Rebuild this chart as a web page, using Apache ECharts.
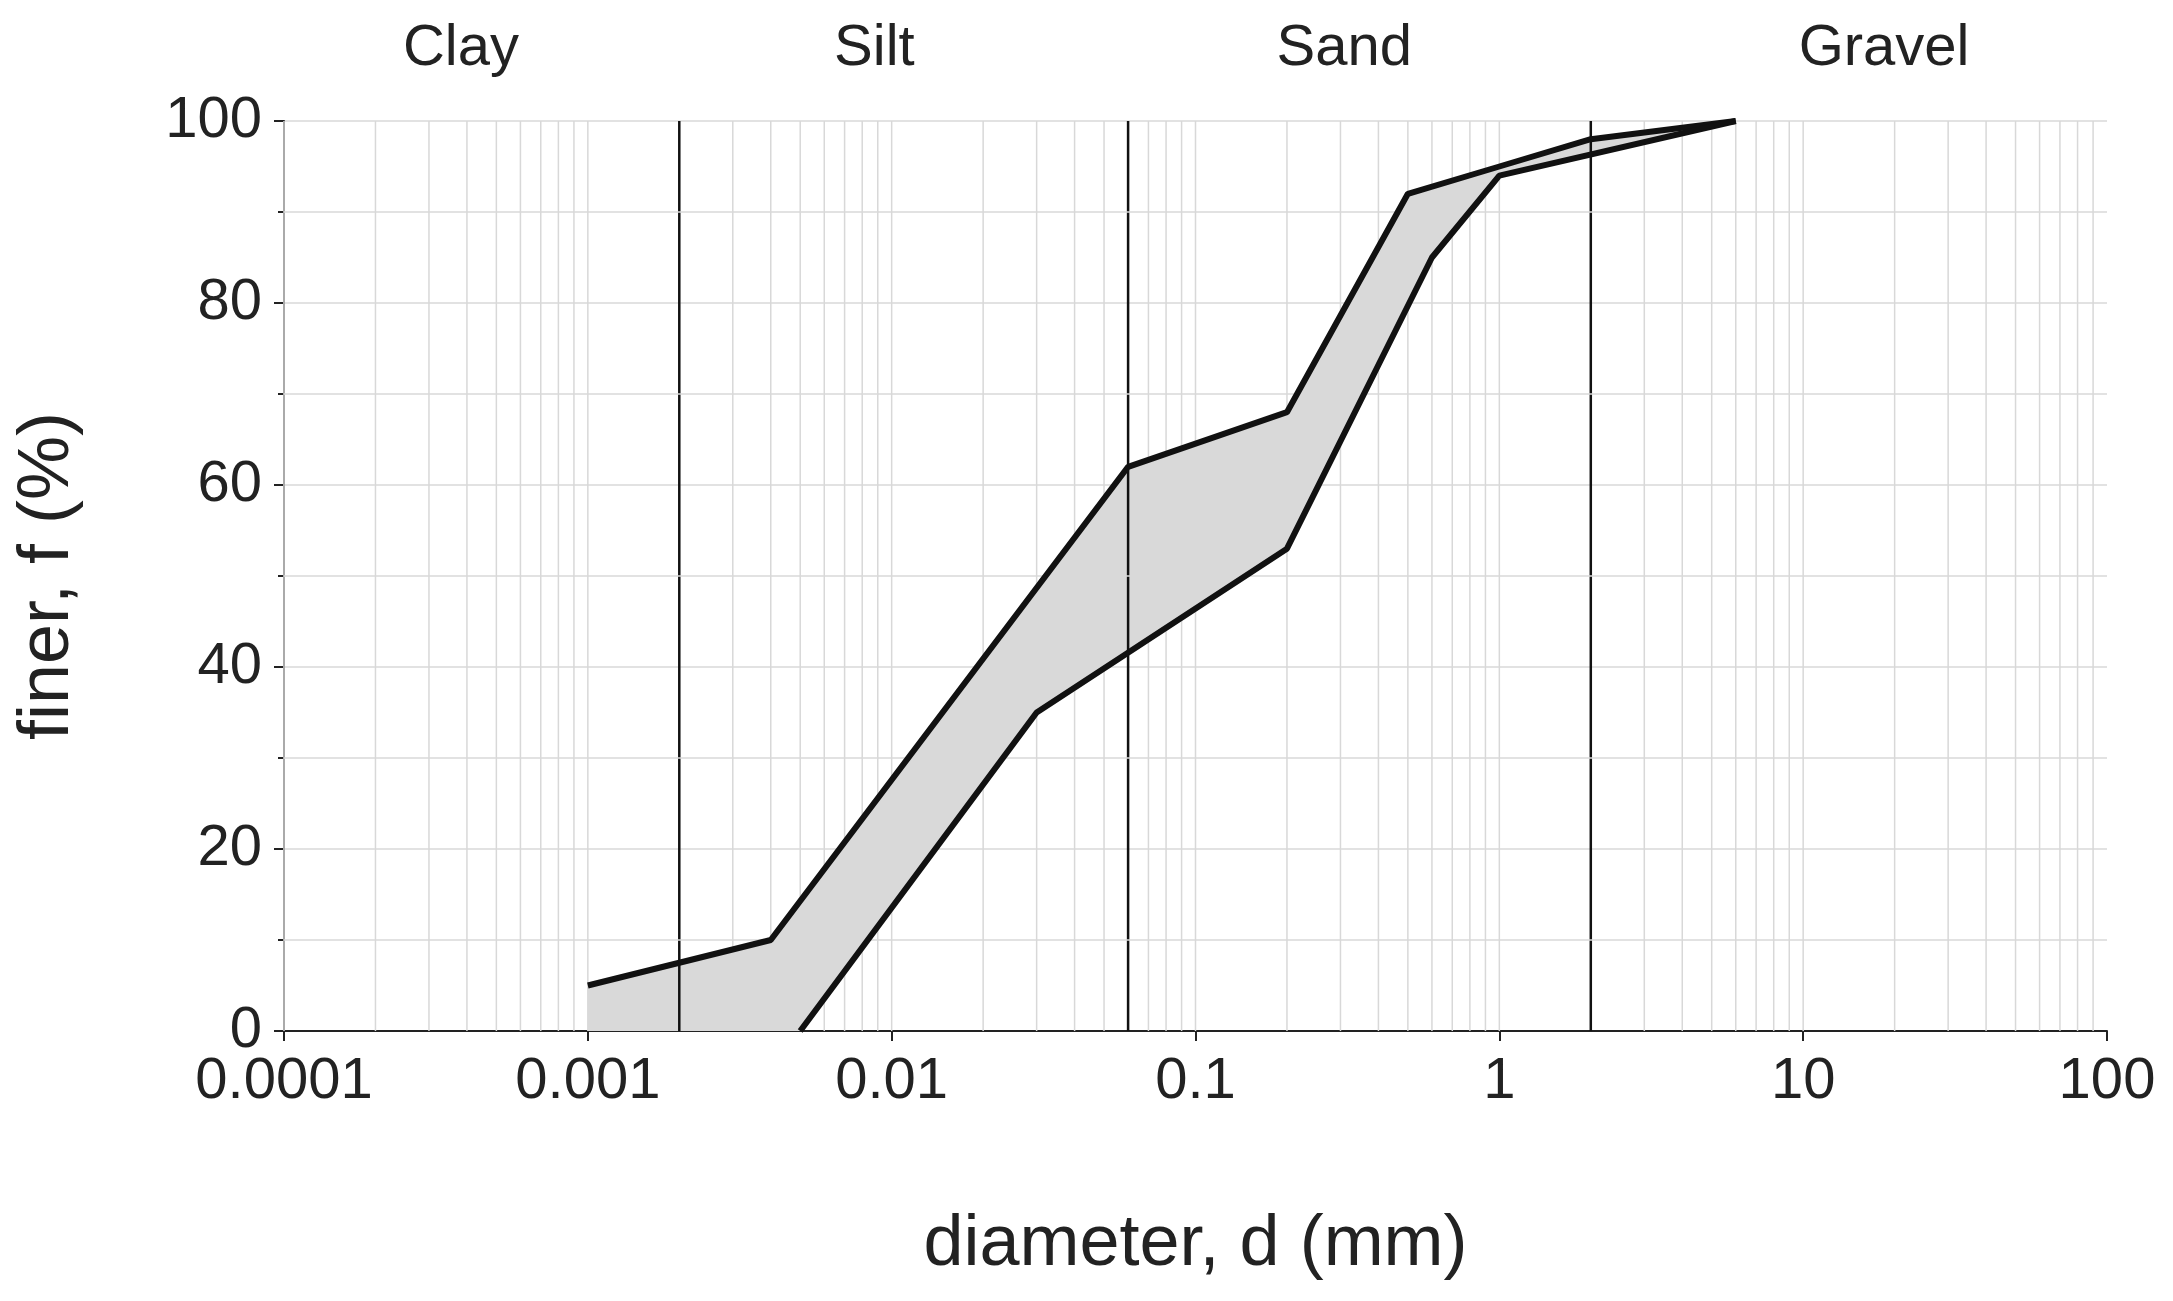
<!DOCTYPE html>
<html><head><meta charset="utf-8">
<script src="https://cdn.jsdelivr.net/npm/echarts@6/dist/echarts.min.js"></script>
<style>html,body{margin:0;background:#fff}#chart{width:2173px;height:1301px}</style>
</head><body><div id="chart"></div>
<script>
// upper and lower limits of the grading band
var upperD = [0.001, 0.004, 0.06, 0.2, 0.5, 1, 2, 6];
var upperF = [5, 10, 62, 68, 92, 95, 98, 100];
var lowerD = [0.005, 0.03, 0.2, 0.6, 1, 6];
var lowerF = [0, 35, 53, 85, 94, 100];
// soil class boundaries (mm)
var boundaries = [0.002, 0.06, 2];
var classNames = ['Clay', 'Silt', 'Sand', 'Gravel'];
var classCentres = [0.0004, 0.0105, 0.3, 20];

var upper = upperD.map(function (d, i) { return [d, upperF[i]]; });
var lower = lowerD.map(function (d, i) { return [d, lowerF[i]]; });
var band = upper.concat(lower.slice().reverse()).concat([[upperD[0], 0]]);

// log grid lines 1..9 in each decade
var gridX = [];
for (var e = -4; e < 2; e++) {
    for (var k = 1; k < 10; k++) gridX.push(k * Math.pow(10, e));
}
var gridY = [10, 30, 50, 70, 90];

var myChart = echarts.init(document.getElementById('chart'));
var L = 284, R = 2107, T = 121, B = 1031;
function xPix(d) { return L + (Math.log10(d) + 4) / 6 * (R - L); }

// vertical lines drawn through the axes' own scale
function vLines(xs, color, width) {
    return function (params, api) {
        return {type: 'group', children: xs.map(function (x) {
            var a = api.coord([x, 0]), b = api.coord([x, 100]);
            return {type: 'line', shape: {x1: a[0], y1: a[1], x2: b[0], y2: b[1]},
                style: {stroke: color, lineWidth: width}};
        })};
    };
}

myChart.setOption({
    animation: false,
    grid: {left: L, right: 2173 - R, top: T, bottom: 1301 - B},
    xAxis: {
        type: 'log', min: 0.0001, max: 100, logBase: 10,
        name: 'diameter, d (mm)', nameLocation: 'middle', nameGap: 178,
        nameTextStyle: {fontSize: 72, color: '#222', fontFamily: 'Liberation Sans'},
        axisLine: {lineStyle: {color: '#222', width: 2}},
        axisTick: {show: true, length: 10, lineStyle: {color: '#222', width: 2}},
        axisLabel: {fontSize: 58, color: '#222', margin: 22, fontFamily: 'Liberation Sans',
            formatter: function (v) { return String(+v.toPrecision(1)); }},
        splitLine: {show: false}
    },
    yAxis: {
        type: 'value', min: 0, max: 100, interval: 20,
        name: 'finer, f (%)', nameLocation: 'middle', nameGap: 200,
        nameTextStyle: {fontSize: 72, color: '#222', fontFamily: 'Liberation Sans'},
        axisLine: {show: true, lineStyle: {color: '#222', width: 2}},
        axisTick: {show: true, length: 10, lineStyle: {color: '#222', width: 2}},
        minorTick: {show: true, splitNumber: 2, length: 6, lineStyle: {color: '#222', width: 2}},
        axisLabel: {fontSize: 58, color: '#222', margin: 22, fontFamily: 'Liberation Sans'},
        splitLine: {show: true, lineStyle: {color: '#d8d8d8', width: 1.5}}
    },
    graphic: classNames.map(function (n, i) {
        return {type: 'text', left: xPix(classCentres[i]) - n.length * 16, top: 20,
            style: {text: n, fontSize: 58, fill: '#222', fontFamily: 'Liberation Sans'}};
    }),
    series: [
        {
            type: 'line', data: [], silent: true,
            markLine: {
                silent: true, symbol: 'none', label: {show: false},
                lineStyle: {color: '#d8d8d8', width: 1.5, type: 'solid'},
                data: gridY.map(function (y) { return {yAxis: y}; })
            }
        },
        {type: 'custom', silent: true, data: [0], z: 2, renderItem: vLines(gridX, '#d8d8d8', 1.5)},
        {
            type: 'custom', silent: true, data: [0], z: 3,
            renderItem: function (params, api) {
                return {type: 'polygon',
                    shape: {points: band.map(function (p) { return api.coord(p); })},
                    style: {fill: '#d9d9d9', stroke: 'none'}};
            }
        },
        {type: 'custom', silent: true, data: [0], z: 4, renderItem: vLines(boundaries, '#111', 2.5)},
        {type: 'line', data: upper, symbol: 'none', z: 5, lineStyle: {color: '#111', width: 6}},
        {type: 'line', data: lower, symbol: 'none', z: 5, lineStyle: {color: '#111', width: 6}}
    ]
});
</script></body></html>
